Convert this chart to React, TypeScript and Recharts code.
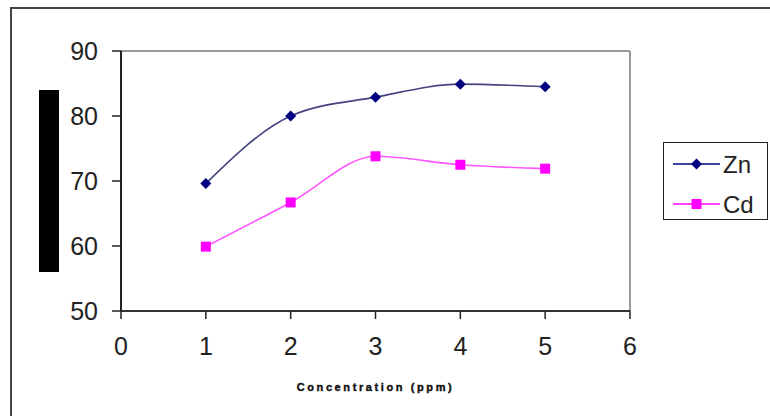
import React from 'react';
import { LineChart, Line, XAxis, YAxis, Legend, ReferenceLine } from 'recharts';

const concentration = [1, 2, 3, 4, 5];
const znValues = [69.6, 80.0, 82.9, 84.9, 84.5];
const cdValues = [59.9, 66.7, 73.8, 72.5, 71.9];
const xTicks = [0, 1, 2, 3, 4, 5, 6];
const yTicks = [50, 60, 70, 80, 90];
const seriesNames = ['Zn', 'Cd'];

const data = concentration.map((c, i) => ({ x: c, Zn: znValues[i], Cd: cdValues[i] }));

const FONT = 'Liberation Sans, Arial, sans-serif';
const ZN_COLOR = '#000080';
const CD_COLOR = '#ff00ff';

const Diamond = (props: any) => {
  const { cx, cy } = props;
  if (cx == null || cy == null) return null;
  const r = 5.5;
  return <path d={`M${cx},${cy - r}L${cx + r},${cy}L${cx},${cy + r}L${cx - r},${cy}Z`} fill={ZN_COLOR} stroke="none" />;
};

const Square = (props: any) => {
  const { cx, cy } = props;
  if (cx == null || cy == null) return null;
  const s = 10;
  return <rect x={cx - s / 2} y={cy - s / 2} width={s} height={s} fill={CD_COLOR} stroke="none" />;
};

const LegendContent = () => (
  <div style={{ width: 105, height: 78, border: '1.5px solid #222', background: '#fff', boxSizing: 'border-box', position: 'relative' }}>
    <svg width={105} height={78} style={{ position: 'absolute', left: 0, top: 0 }}>
      <line x1={9} x2={56} y1={21} y2={21} stroke={ZN_COLOR} strokeWidth={1.5} />
      <path d="M32.5,15.5L38,21L32.5,26.5L27,21Z" fill={ZN_COLOR} />
      <text x={59} y={30} fontSize={24} fontFamily={FONT} fill="#222">{seriesNames[0]}</text>
      <line x1={9} x2={56} y1={61} y2={61} stroke={CD_COLOR} strokeWidth={1.5} />
      <rect x={27.5} y={56} width={10} height={10} fill={CD_COLOR} />
      <text x={59} y={70} fontSize={24} fontFamily={FONT} fill="#222">{seriesNames[1]}</text>
    </svg>
  </div>
);

export default function App() {
  return (
    <div style={{ position: 'absolute', left: 0, top: 0, width: 770, height: 416, overflow: 'hidden', background: '#fff' }}>
      <div style={{ position: 'absolute', left: 10, top: 7, width: 800, height: 500, border: '2.5px solid #444' }} />
      <div style={{ position: 'absolute', left: 39, top: 90, width: 20, height: 182, background: '#000' }} />
      <LineChart
        width={770}
        height={416}
        data={data}
        margin={{ top: 51, right: 140, bottom: 75, left: 61 }}
        style={{ position: 'absolute', left: 0, top: 0 }}
      >
        <ReferenceLine y={90} stroke="#999" strokeWidth={2} />
        <ReferenceLine x={6} stroke="#999" strokeWidth={2} />
        <XAxis
          dataKey="x"
          type="number"
          domain={[0, 6]}
          ticks={xTicks}
          interval={0}
          height={30}
          tickSize={8}
          tickMargin={18}
          axisLine={{ stroke: '#333', strokeWidth: 2 }}
          tickLine={{ stroke: '#222', strokeWidth: 1.5 }}
          tick={{ fontSize: 25, fontFamily: FONT, fill: '#222' }}
          label={{ value: 'Concentration (ppm)', position: 'insideBottom', offset: -50, fontSize: 11, fontWeight: 900, letterSpacing: 2.6, fontFamily: FONT, fill: '#111', stroke: '#111', strokeWidth: 0.4 }}
        />
        <YAxis
          type="number"
          domain={[50, 90]}
          ticks={yTicks}
          interval={0}
          width={60}
          tickSize={9}
          tickMargin={14}
          axisLine={{ stroke: '#222', strokeWidth: 2 }}
          tickLine={{ stroke: '#222', strokeWidth: 1.5 }}
          tick={{ fontSize: 25, fontFamily: FONT, fill: '#222' }}
        />
        <Legend
          layout="vertical"
          align="center"
          verticalAlign="middle"
          content={<LegendContent />}
          wrapperStyle={{ position: 'absolute', left: 663, top: 142, width: 105, height: 78 }}
        />
        <Line
          type="monotone"
          dataKey="Zn"
          name={seriesNames[0]}
          stroke="#44447f"
          strokeWidth={1.6}
          dot={<Diamond />}
          activeDot={false}
          isAnimationActive={false}
        />
        <Line
          type="monotone"
          dataKey="Cd"
          name={seriesNames[1]}
          stroke="#ff55ff"
          strokeWidth={1.6}
          dot={<Square />}
          activeDot={false}
          isAnimationActive={false}
        />
      </LineChart>
    </div>
  );
}
